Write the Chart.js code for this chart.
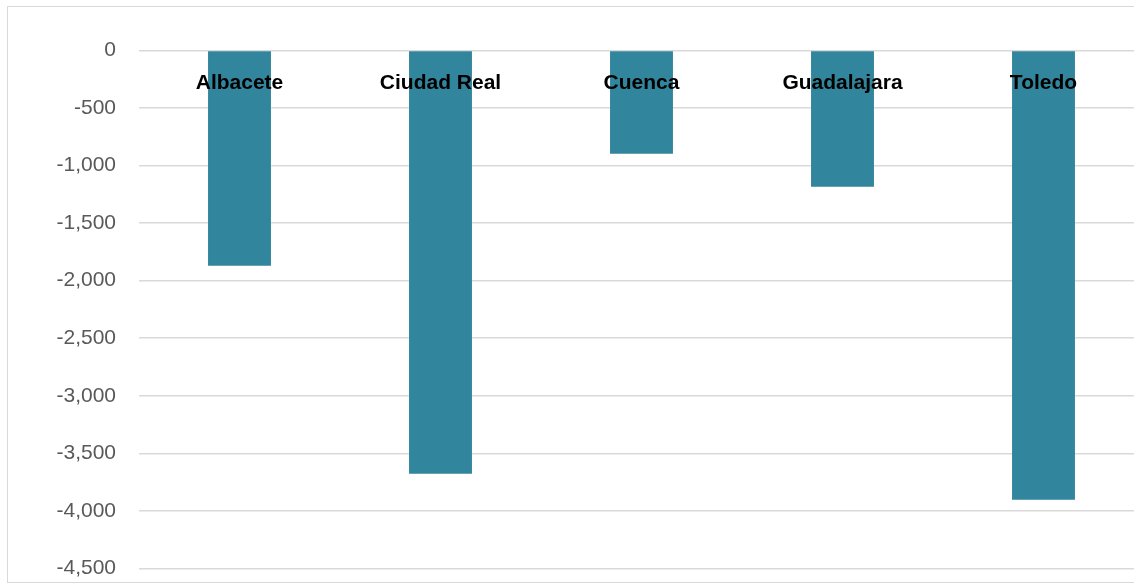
<!DOCTYPE html>
<html>
<head>
<meta charset="utf-8">
<script src="https://cdn.jsdelivr.net/npm/chart.js@4"></script>
<style>
  html, body { margin: 0; padding: 0; background: #fff; overflow: hidden; }
  #frame {
    position: absolute; left: 7px; top: 6px; width: 1160px; height: 577px;
    border: 1.5px solid #d9d9d9; box-sizing: border-box;
  }
  #chart { position: absolute; left: 0; top: 0; }
</style>
</head>
<body>
<div id="frame"></div>
<canvas id="chart" width="1150" height="604"></canvas>
<script>
// provincias y saldo
const CATEGORIES = ["Albacete", "Ciudad Real", "Cuenca", "Guadalajara", "Toledo"];
const VALUES = [-1870, -3677, -897, -1183, -3903];
const Y_MIN = -4500;
const Y_MAX = 0;
const Y_STEP = 500;

const BAR_COLOR = '#31859C';

new Chart(document.getElementById('chart'), {
  type: 'bar',
  data: {
    labels: CATEGORIES,
    datasets: [{
      data: VALUES,
      backgroundColor: BAR_COLOR,
      borderWidth: 0,
      categoryPercentage: 1,
      barPercentage: 0.313
    }]
  },
  options: {
    responsive: false,
    animation: false,
    layout: { padding: { left: 0, right: 6, top: 50.5, bottom: 14.6 } },
    plugins: {
      legend: { display: false },
      tooltip: { enabled: false }
    },
    scales: {
      x: {
        position: { y: 0 },
        afterFit: s => { s.height = 0; },
        grid: { display: false },
        border: { display: false },
        ticks: {
          z: 1,
          padding: 12,
          maxRotation: 0,
          autoSkip: false,
          color: '#000',
          font: { family: 'Liberation Sans', size: 21, weight: 'bold' }
        }
      },
      y: {
        min: Y_MIN, max: Y_MAX,
        afterFit: s => { s.width = 139; },
        grid: { color: '#d9d9d9', lineWidth: 1.5, drawTicks: false },
        border: { display: false },
        ticks: {
          stepSize: Y_STEP,
          padding: 23,
          color: '#595959',
          font: { family: 'Liberation Sans', size: 21 },
          callback: v => v.toLocaleString('en-US')
        }
      }
    }
  }
});
</script>
</body>
</html>
